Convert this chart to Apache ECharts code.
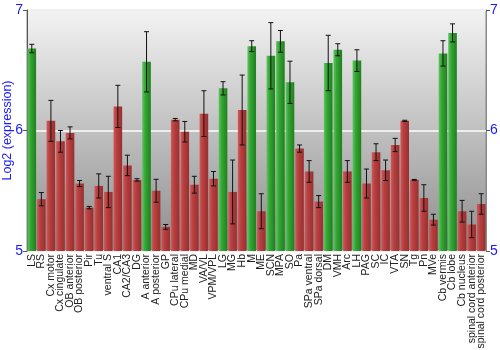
<!DOCTYPE html>
<html>
<head>
<meta charset="utf-8">
<script src="https://cdn.jsdelivr.net/npm/echarts@6/dist/echarts.min.js"></script>
<style>
  html, body { margin: 0; padding: 0; background: #fff; }
  #chart { width: 500px; height: 350px; }
</style>
</head>
<body>
<div id="chart"></div>
<script>
// Brain regions along the x axis
const regions = [
  'LS', 'RS', 'Cx motor', 'Cx cingulate', 'OB anterior', 'OB posterior', 'Pir', 'Tu',
  'ventral S', 'CA1', 'CA2/CA3', 'DG', 'A anterior', 'A posterior', 'GP', 'CPu lateral',
  'CPu medial', 'MD', 'VA/VL', 'VPM/VPL', 'LG', 'MG', 'Hb', 'M', 'ME', 'SCN', 'MPA', 'SO',
  'Pa', 'SPa ventral', 'SPa dorsal', 'DM', 'VMH', 'Arc', 'LH', 'PAG', 'SC', 'IC', 'VTA',
  'SN', 'Tg', 'Pn', 'MVe', 'Cb vermis', 'Cb lobe', 'Cb nucleus',
  'spinal cord anterior', 'spinal cord posterior'
];

// Mean log2 expression per region
const expression = [
  6.68, 5.43, 6.08, 5.91, 5.98, 5.56, 5.36, 5.54,
  5.49, 6.20, 5.71, 5.59, 6.57, 5.50, 5.20, 6.09,
  5.99, 5.55, 6.14, 5.60, 6.35, 5.49, 6.17, 6.70, 5.33, 6.62, 6.74, 6.40,
  5.85, 5.66, 5.41, 6.56, 6.67, 5.66, 6.58, 5.56, 5.82, 5.67, 5.88,
  6.08, 5.59, 5.44, 5.26, 6.64, 6.81, 5.33,
  5.22, 5.39
];

// Half-height of each error bar
const errors = [
  0.035, 0.055, 0.17, 0.09, 0.05, 0.025, 0.01, 0.10,
  0.13, 0.175, 0.085, 0.01, 0.25, 0.095, 0.02, 0.01,
  0.085, 0.07, 0.19, 0.06, 0.055, 0.265, 0.29, 0.045, 0.145, 0.275, 0.09, 0.175,
  0.03, 0.09, 0.05, 0.23, 0.05, 0.09, 0.09, 0.12, 0.07, 0.085, 0.055,
  0.005, 0.004, 0.11, 0.045, 0.105, 0.075, 0.09,
  0.11, 0.085
];

// Regions flagged as enriched (drawn green)
const enriched = [
  1, 0, 0, 0, 0, 0, 0, 0,
  0, 0, 0, 0, 1, 0, 0, 0,
  0, 0, 0, 0, 1, 0, 0, 1, 0, 1, 1, 1,
  0, 0, 0, 1, 1, 0, 1, 0, 0, 0, 0,
  0, 0, 0, 0, 1, 1, 0,
  0, 0
];

const yTicks = { min: 5, max: 7, step: 1 };

function barGradient(stops) {
  return new echarts.graphic.LinearGradient(0, 0, 1, 0, [
    { offset: 0, color: stops[0] },
    { offset: 0.35, color: stops[1] },
    { offset: 1, color: stops[2] }
  ]);
}
const greenFill = barGradient(['#5fc45f', '#34a634', '#1f7f1f']);
const redFill = barGradient(['#cf5a5a', '#b93f3f', '#963030']);

const barData = expression.map((v, i) => ({
  value: v,
  itemStyle: { color: enriched[i] ? greenFill : redFill }
}));
const errData = expression.map((v, i) => [i, v - errors[i], v + errors[i]]);

const font = 'Liberation Sans, Arial, sans-serif';
const axisStyle = {
  type: 'value',
  min: yTicks.min,
  max: yTicks.max,
  interval: yTicks.step,
  axisLine: { show: true, lineStyle: { color: '#555', width: 1 } },
  axisTick: { show: true, length: 4, lineStyle: { color: '#555' } },
  axisLabel: { color: '#1a1aff', fontSize: 14, fontFamily: font, margin: 4 },
};

const chart = echarts.init(document.getElementById('chart'), null, { renderer: 'canvas' });
chart.setOption({
  animation: false,
  grid: {
    left: 27, right: 14, top: 10, bottom: 99,
    outerBoundsMode: 'none',
    containLabel: false,
    show: true,
    borderColor: '#888',
    borderWidth: 1,
    backgroundColor: new echarts.graphic.LinearGradient(0, 0, 0, 1, [
      { offset: 0, color: '#f3f3f3' },
      { offset: 1, color: '#8d8d8d' }
    ])
  },
  xAxis: {
    type: 'category',
    data: regions,
    axisLine: { show: false },
    axisTick: { show: false },
    axisLabel: {
      interval: 0, rotate: 90, fontSize: 10.5, color: '#222', margin: 3,
      fontFamily: font
    }
  },
  yAxis: [
    Object.assign({}, axisStyle, {
      position: 'left',
      name: 'Log2 (expression)',
      nameLocation: 'middle',
      nameGap: 13,
      nameMoveOverlap: false,
      nameTextStyle: { color: '#1a1aff', fontSize: 12.5, fontFamily: font },
      splitLine: { show: true, lineStyle: { color: '#ffffff', width: 1.5 } }
    }),
    Object.assign({}, axisStyle, {
      position: 'right',
      axisLine: { show: true, lineStyle: { color: '#888', width: 1 } },
      splitLine: { show: false }
    })
  ],
  series: [
    {
      type: 'bar',
      data: barData,
      barCategoryGap: '10%',
      yAxisIndex: 0
    },
    {
      type: 'custom',
      yAxisIndex: 0,
      data: errData,
      z: 10,
      renderItem: function (params, api) {
        const x = api.value(0);
        const lo = api.coord([x, api.value(1)]);
        const hi = api.coord([x, api.value(2)]);
        const cap = 2.5;
        const style = { stroke: '#111', lineWidth: 1 };
        return {
          type: 'group',
          children: [
            { type: 'line', shape: { x1: lo[0], y1: lo[1], x2: hi[0], y2: hi[1] }, style: style },
            { type: 'line', shape: { x1: lo[0] - cap, y1: lo[1], x2: lo[0] + cap, y2: lo[1] }, style: style },
            { type: 'line', shape: { x1: hi[0] - cap, y1: hi[1], x2: hi[0] + cap, y2: hi[1] }, style: style }
          ]
        };
      }
    }
  ]
});
</script>
</body>
</html>
